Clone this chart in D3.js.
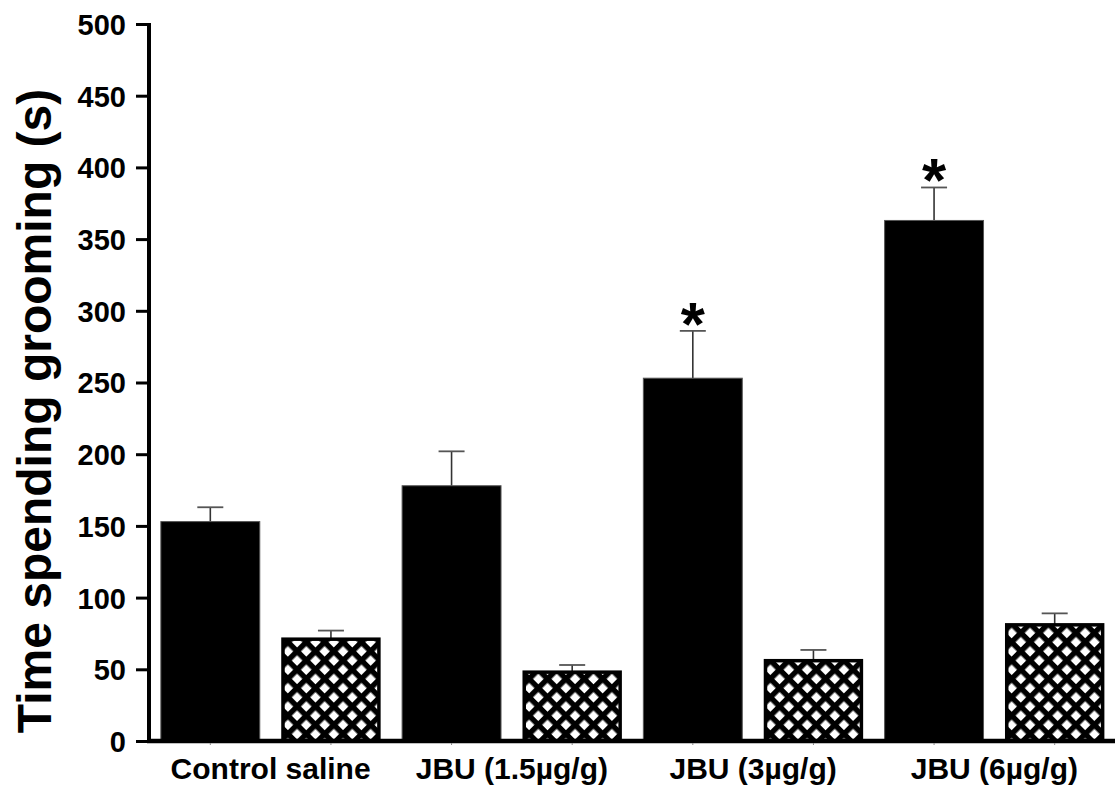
<!DOCTYPE html>
<html>
<head>
<meta charset="utf-8">
<script src="https://cdn.jsdelivr.net/npm/d3@7"></script>
<style>
  html, body { margin: 0; padding: 0; background: #fff; }
  svg { display: block; font-family: "Liberation Sans", Arial, Helvetica, sans-serif; }
</style>
</head>
<body>
<svg id="chart" width="1119" height="796"></svg>
<script>
// Groups on the x axis
const groups = ["Control saline", "JBU (1.5µg/g)", "JBU (3µg/g)", "JBU (6µg/g)"];
// Two bars per group: solid and cross-hatched
const series = ["solid", "hatched"];
// Mean grooming time (s)
const solidMeans = [153, 178, 253, 363];
const hatchedMeans = [71, 48, 56, 81];
// Upper end of the error bars (mean + SEM)
const solidUpper = [163, 202, 286, 386];
const hatchedUpper = [77, 53, 63.5, 89];
// Significance marks over the solid bars
const solidMarks = ["", "", "*", "*"];
// Y axis ticks
const yTicks = [0, 50, 100, 150, 200, 250, 300, 350, 400, 450, 500];

const svg = d3.select("#chart");

const x0 = d3.scaleBand().domain(groups).range([150, 1115]).padding(0);
const x1 = d3.scaleBand().domain(series).range([0, x0.bandwidth()])
  .paddingInner(0.18).paddingOuter(0.09);
const y = d3.scaleLinear().domain([0, 500]).range([741, 24]);

// Cross-hatch fill
const defs = svg.append("defs");
const pat = defs.append("pattern")
  .attr("id", "xhatch")
  .attr("patternUnits", "userSpaceOnUse")
  .attr("width", 13).attr("height", 13)
  .attr("patternTransform", "translate(0,4) rotate(45)");
pat.append("rect").attr("width", 13).attr("height", 13).attr("fill", "#fff");
pat.append("rect").attr("x", 0).attr("y", 0).attr("width", 5.5).attr("height", 13).attr("fill", "#000");
pat.append("rect").attr("x", 0).attr("y", 0).attr("width", 13).attr("height", 5.5).attr("fill", "#000");

const rows = groups.map((g, i) => ({
  group: g,
  values: [
    { key: "solid", mean: solidMeans[i], upper: solidUpper[i], mark: solidMarks[i] },
    { key: "hatched", mean: hatchedMeans[i], upper: hatchedUpper[i], mark: "" }
  ]
}));

const gBars = svg.append("g");
const groupSel = gBars.selectAll("g.grp").data(rows).join("g")
  .attr("class", "grp")
  .attr("transform", d => `translate(${x0(d.group)},0)`);

const bars = groupSel.selectAll("g.bar").data(d => d.values).join("g").attr("class", "bar");

// Error bars (upper half only)
bars.append("line")
  .attr("x1", d => x1(d.key) + x1.bandwidth() / 2)
  .attr("x2", d => x1(d.key) + x1.bandwidth() / 2)
  .attr("y1", d => y(d.mean))
  .attr("y2", d => y(d.upper))
  .attr("stroke", "#333").attr("stroke-width", 1.6);
bars.append("line")
  .attr("x1", d => x1(d.key) + x1.bandwidth() / 2 - 13)
  .attr("x2", d => x1(d.key) + x1.bandwidth() / 2 + 13)
  .attr("y1", d => y(d.upper))
  .attr("y2", d => y(d.upper))
  .attr("stroke", "#555").attr("stroke-width", 1.8);

// Bars
bars.append("rect")
  .attr("x", d => x1(d.key) + (d.key === "hatched" ? 1.5 : 0))
  .attr("width", d => x1.bandwidth() - (d.key === "hatched" ? 3 : 0))
  .attr("y", d => y(d.mean))
  .attr("height", d => y(0) - y(d.mean))
  .attr("fill", d => d.key === "solid" ? "#000" : "url(#xhatch)")
  .attr("stroke", d => d.key === "solid" ? "#555" : "#000")
  .attr("stroke-width", d => d.key === "solid" ? 1 : 3.5);

// Significance asterisks
bars.filter(d => d.mark).append("text")
  .attr("x", d => x1(d.key) + x1.bandwidth() / 2)
  .attr("y", d => y(d.upper) + 14)
  .attr("text-anchor", "middle")
  .attr("font-size", 62)
  .attr("font-weight", "bold")
  .attr("fill", "#000")
  .text(d => d.mark);

// Y axis
const yAxis = d3.axisLeft(y).tickValues(yTicks).tickSize(13).tickPadding(10).tickFormat(d3.format("d"));
const gy = svg.append("g").attr("transform", "translate(149,0)").call(yAxis);
gy.select(".domain").attr("stroke", "#000").attr("stroke-width", 4).attr("d", `M0,${y(500) - 1}V${y(0) + 2}`);
gy.selectAll(".tick line").attr("stroke", "#000").attr("stroke-width", 3);
gy.selectAll(".tick text")
  .attr("font-size", 29).attr("font-weight", "bold").attr("fill", "#000")
  .attr("font-family", "'Liberation Sans', Arial, sans-serif")
  .attr("dy", "0.36em");

// X axis baseline
svg.append("line")
  .attr("x1", 147).attr("x2", 1115)
  .attr("y1", y(0)).attr("y2", y(0))
  .attr("stroke", "#000").attr("stroke-width", 4.5);

// Small marks under each bar centre
const barCentres = [];
groups.forEach(g => series.forEach(s => barCentres.push(x0(g) + x1(s) + x1.bandwidth() / 2)));
svg.append("g").selectAll("line").data(barCentres).join("line")
  .attr("x1", d => d).attr("x2", d => d)
  .attr("y1", y(0) + 2).attr("y2", y(0) + 4)
  .attr("stroke", "#888").attr("stroke-width", 1);

// Group labels
svg.append("g").selectAll("text").data(groups).join("text")
  .attr("x", d => x0(d) + x0.bandwidth() / 2)
  .attr("y", 779)
  .attr("text-anchor", "middle")
  .attr("font-size", 30)
  .attr("font-weight", "bold")
  .attr("fill", "#000")
  .text(d => d);

// Y axis title
svg.append("text")
  .attr("transform", "translate(51,411) rotate(-90)")
  .attr("text-anchor", "middle")
  .attr("font-size", 48)
  .attr("font-weight", "bold")
  .attr("fill", "#000")
  .text("Time spending grooming (s)");
</script>
</body>
</html>
